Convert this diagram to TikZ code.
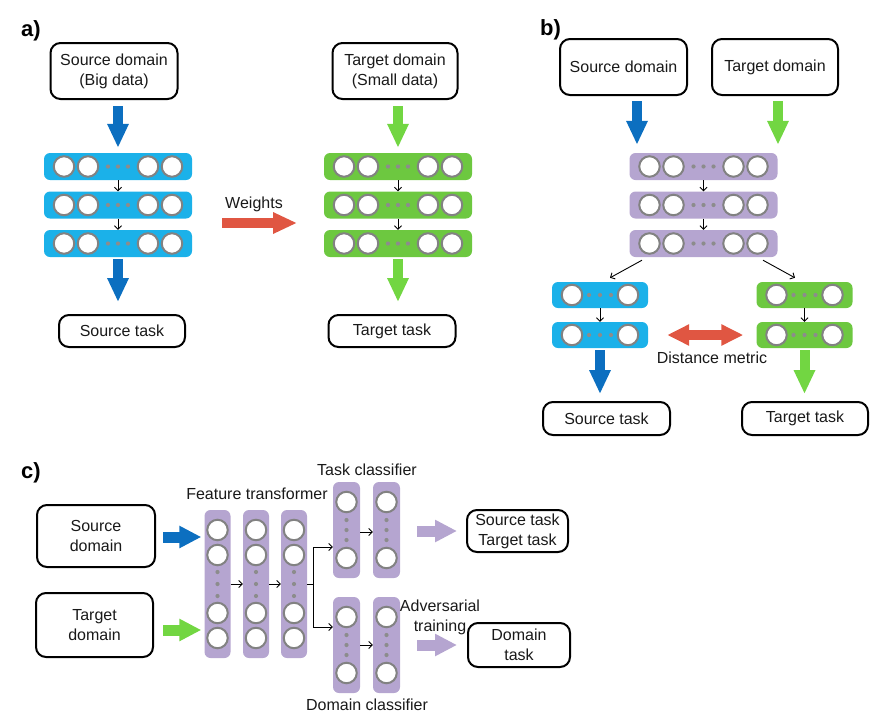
\documentclass[tikz,border=0pt]{standalone}
\usepackage{fontspec}
\setmainfont{Liberation Sans}
\usetikzlibrary{arrows.meta,calc}
\definecolor{cyanL}{RGB}{27,177,233}
\definecolor{blueA}{RGB}{12,111,192}
\definecolor{greenL}{RGB}{109,200,64}
\definecolor{greenA}{RGB}{114,214,66}
\definecolor{purp}{RGB}{181,165,208}
\definecolor{redA}{RGB}{224,86,66}
\definecolor{ngray}{RGB}{130,130,130}
\definecolor{dgray}{RGB}{140,140,140}
\definecolor{txtc}{RGB}{25,25,25}
\tikzset{
 box/.style={draw=black, line width=2pt, rounded corners=10pt, align=center, font=\fontsize{16}{20}\selectfont, text=txtc, inner sep=0pt},
 txt/.style={font=\fontsize{16}{20}\selectfont, text=txtc, inner sep=0pt, align=center},
 lbl/.style={font=\fontsize{22}{24}\selectfont\bfseries, inner sep=0pt, anchor=west},
 layer/.style={rounded corners=6pt, inner sep=0pt, draw=none},
 neuron/.style={circle, draw=ngray, line width=2pt, fill=white, minimum size=20.5pt, inner sep=0pt},
 ndot/.style={circle, fill=dgray, minimum size=4.2pt, inner sep=0pt},
 fat/.style={line width=10pt, -{Triangle[length=24pt,width=20pt]}},
 fatc/.style={line width=11pt, -{Triangle[length=22pt,width=21pt]}},
 thinarr/.style={line width=0.9pt, -{Straight Barb[length=3.5pt,width=7pt]}},
}
\newcommand\hrowfour[4]{%
  \node[layer, fill=#4, minimum width=148pt, minimum height=27pt] (#1) at (#2,#3) {};
  \foreach \dx [count=\i] in {-54,-30,30,54} {\node[neuron] (#1n\i) at ({#2+\dx},#3) {};}
  \foreach \dx [count=\i] in {-10,0,10} {\node[ndot] (#1d\i) at ({#2+\dx},#3) {};}
}
\newcommand\hrowtwo[4]{%
  \node[layer, fill=#4, minimum width=96pt, minimum height=26pt] (#1) at (#2,#3) {};
  \foreach \dx [count=\i] in {-28,28} {\node[neuron] (#1n\i) at ({#2+\dx},#3) {};}
  \foreach \dx [count=\i] in {-11,0,11} {\node[ndot] (#1d\i) at ({#2+\dx},#3) {};}
}
\newcommand\vcolfour[4]{%
  \node[layer, fill=#4, minimum width=26pt, minimum height=148pt] (#1) at (#2,#3) {};
  \foreach \dy [count=\i] in {-54,-29,29,54} {\node[neuron] (#1n\i) at (#2,{#3+\dy}) {};}
  \foreach \dy [count=\i] in {-12,0,12} {\node[ndot] (#1d\i) at (#2,{#3+\dy}) {};}
}
\newcommand\vcoltwo[4]{%
  \node[layer, fill=#4, minimum width=27pt, minimum height=96pt] (#1) at (#2,#3) {};
  \foreach \dy [count=\i] in {-28,28} {\node[neuron] (#1n\i) at (#2,{#3+\dy}) {};}
  \foreach \dy [count=\i] in {-10,0,10} {\node[ndot] (#1d\i) at (#2,{#3+\dy}) {};}
}
\begin{document}
\begin{tikzpicture}[x=1pt,y=-1pt]
\useasboundingbox (0,0) rectangle (887,721);
%% ---------- panel a ----------
\node[lbl] (la) at (21,31) {a)};
\node[box, minimum width=127pt, minimum height=56pt] (sd) at (114,71) {Source domain\\(Big data)};
\node[box, minimum width=125pt, minimum height=56pt] (td) at (395,71) {Target domain\\(Small data)};
\hrowfour{l1}{118}{166.5}{cyanL}
\hrowfour{l2}{118}{205}{cyanL}
\hrowfour{l3}{118}{243.5}{cyanL}
\hrowfour{t1}{398}{166.5}{greenL}
\hrowfour{t2}{398}{205}{greenL}
\hrowfour{t3}{398}{243.5}{greenL}
\node[box, minimum width=126pt, minimum height=32pt] (st) at (122,331) {Source task};
\node[box, minimum width=127pt, minimum height=32pt] (tt) at (392,331) {Target task};
\draw[fat, blueA, shorten <=6pt, shorten >=5pt] (l1.north |- sd.south) -- (l1.north);
\draw[fat, greenA, shorten <=6pt, shorten >=5pt] (t1.north |- td.south) -- (t1.north);
\draw[thinarr] (l1.south) -- (l2.north);
\draw[thinarr] (l2.south) -- (l3.north);
\draw[thinarr] (t1.south) -- (t2.north);
\draw[thinarr] (t2.south) -- (t3.north);
\draw[fat, blueA, shorten <=2pt, shorten >=12pt] (l3.south) -- (l3.south |- st.north);
\draw[fat, greenA, shorten <=2pt, shorten >=12pt] (t3.south) -- (t3.south |- tt.north);
\node[txt] (wt) at (254,204) {Weights};
\coordinate (w1) at (222,223);
\coordinate (w2) at (297,223);
\draw[fat, redA] (w1) -- (w2);
%% ---------- panel b ----------
\node[lbl] (lb) at (540,30) {b)};
\node[box, minimum width=127pt, minimum height=56pt] (bsd) at (623.5,67) {Source domain};
\node[box, minimum width=126pt, minimum height=56pt] (btd) at (775,67) {Target domain};
\hrowfour{p1}{703.5}{166.5}{purp}
\hrowfour{p2}{703.5}{205}{purp}
\hrowfour{p3}{703.5}{243.5}{purp}
\hrowtwo{bs1}{600}{295}{cyanL}
\hrowtwo{bs2}{600}{335}{cyanL}
\hrowtwo{bg1}{804.5}{295}{greenL}
\hrowtwo{bg2}{804.5}{335}{greenL}
\node[box, minimum width=127pt, minimum height=33pt] (bst) at (606.5,418.5) {Source task};
\node[box, minimum width=126pt, minimum height=33pt] (btt) at (805,418.5) {Target task};
\draw[fat, blueA, shorten <=5pt, shorten >=8pt] ([xshift=13.5pt]bsd.south) -- ([xshift=13.5pt]bsd.south |- p1.north);
\draw[fat, greenA, shorten <=5pt, shorten >=8pt] ([xshift=3pt]btd.south) -- ([xshift=3pt]btd.south |- p1.north);
\draw[thinarr] (p1.south) -- (p2.north);
\draw[thinarr] (p2.south) -- (p3.north);
\draw[thinarr] ([xshift=-61.5pt,yshift=-3pt]p3.south) -- ([xshift=10pt,yshift=4pt]bs1.north);
\draw[thinarr] ([xshift=59.5pt,yshift=-3pt]p3.south) -- ([xshift=-9.5pt,yshift=4pt]bg1.north);
\draw[thinarr] (bs1.south) -- (bs2.north);
\draw[thinarr] (bg1.south) -- (bg2.north);
\draw[line width=10pt, redA, {Triangle[length=22pt,width=20pt]}-{Triangle[length=22pt,width=20pt]}, shorten <=19pt, shorten >=13pt] (bs2.east) -- (bg2.west);
\node[txt] (dm) at (712,358) {Distance metric};
\draw[fat, blueA, shorten <=2pt, shorten >=7pt] (bs2.south) -- (bs2.south |- bst.north);
\draw[fat, greenA, shorten <=2pt, shorten >=7pt] (bg2.south) -- (bg2.south |- btt.north);
%% ---------- panel c ----------
\node[lbl] (lc) at (21,473) {c)};
\node[box, minimum width=118pt, minimum height=62pt] (csd) at (96,536) {Source\\domain};
\node[box, minimum width=117pt, minimum height=64pt] (ctd) at (94.5,625) {Target\\domain};
\vcolfour{f1}{217.5}{584}{purp}
\vcolfour{f2}{256}{584}{purp}
\vcolfour{f3}{294}{584}{purp}
\vcoltwo{ta}{346.5}{530}{purp}
\vcoltwo{tb}{386.5}{530}{purp}
\vcoltwo{da}{346.5}{645}{purp}
\vcoltwo{db}{386.5}{645}{purp}
\node[box, minimum width=101pt, minimum height=42pt] (ctask) at (517.5,531) {Source task\\Target task};
\node[box, minimum width=102pt, minimum height=44pt] (dtask) at (519,645) {Domain\\task};
\draw[fatc, blueA, shorten <=7pt, shorten >=3pt] ([yshift=-1pt]csd.east) -- ([yshift=-1pt]csd.east -| f1.west);
\draw[fatc, greenA, shorten <=9pt, shorten >=3pt] ([yshift=-5pt]ctd.east) -- ([yshift=-5pt]ctd.east -| f1.west);
\draw[thinarr] (f1.east) -- (f2.west);
\draw[thinarr] (f2.east) -- (f3.west);
\draw[line width=0.9pt] (f3.east) -- ++(6,0) coordinate (br);
\draw[thinarr] (br) |- ([yshift=-17pt]ta.west);
\draw[thinarr] (br) |- ([yshift=18pt]da.west);
\draw[thinarr] ([yshift=-2pt]ta.east) -- ([yshift=-2pt]tb.west);
\draw[thinarr] (da.east) -- (db.west);
\draw[fatc, purp, shorten <=17pt, shorten >=9pt] ([yshift=-1pt]tb.east) -- ([yshift=-1pt]tb.east -| ctask.west);
\draw[fatc, purp, shorten <=17pt, shorten >=10pt] (db.east) -- (db.east -| dtask.west);
\node[txt] (ft) at (257,494) {Feature transformer};
\node[txt] (tc) at (367,470) {Task classifier};
\node[txt] (dc) at (367,705) {Domain classifier};
\node[txt] (adv) at (440,617) {Adversarial\\training};
\end{tikzpicture}
\end{document}
